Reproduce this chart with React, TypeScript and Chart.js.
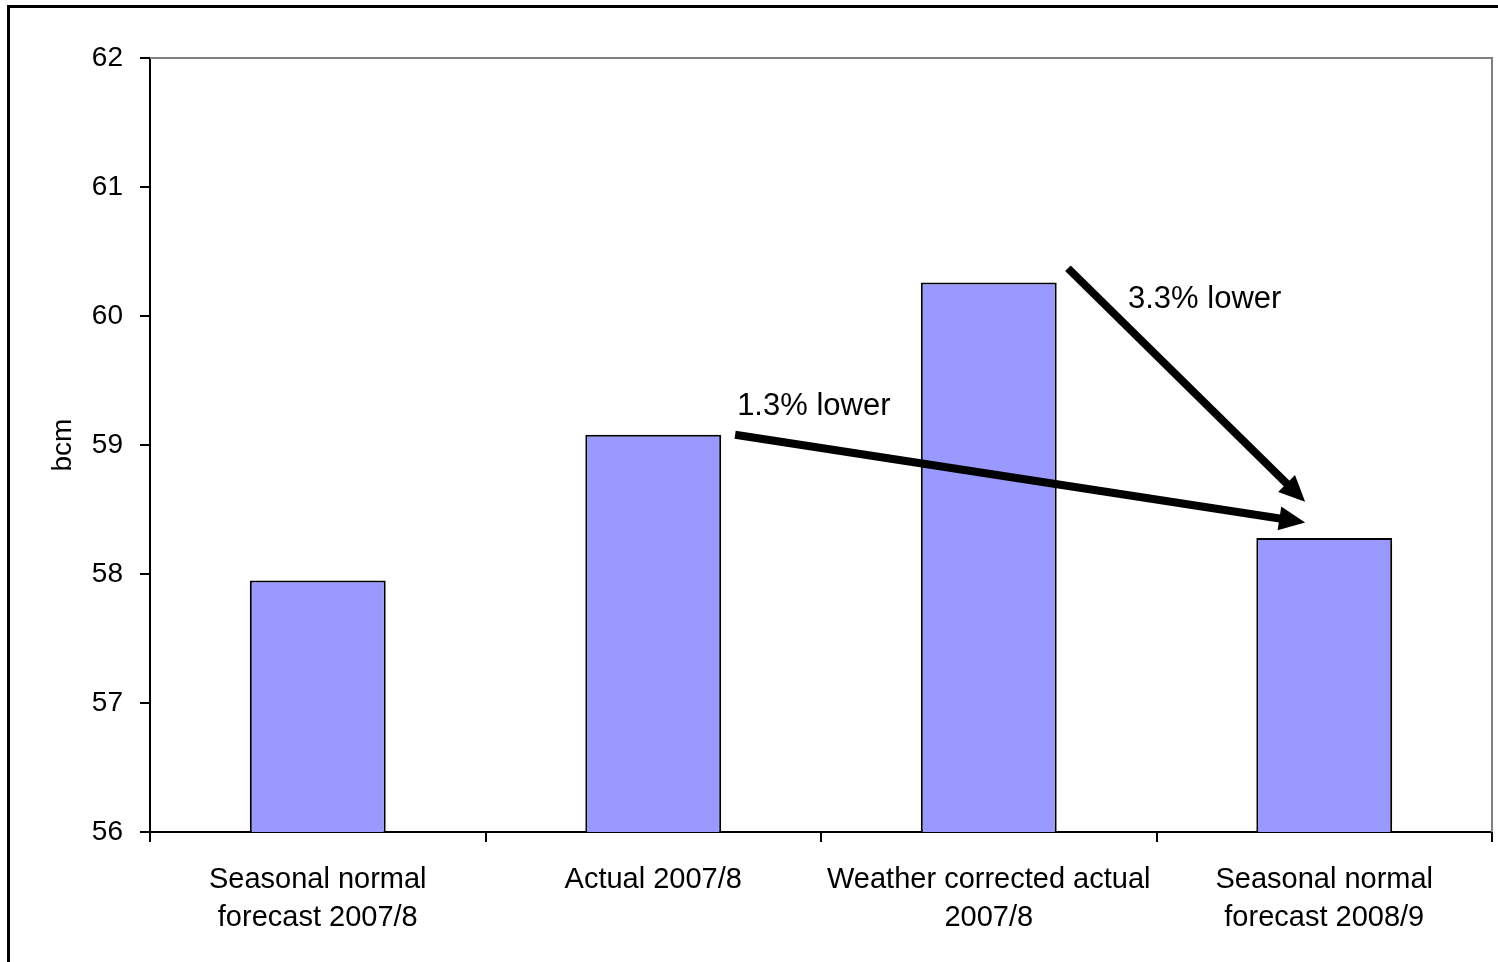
import React, { useEffect, useRef } from 'react';
import { Chart, registerables } from 'chart.js';

Chart.register(...registerables);

// Gas demand by year, billion cubic metres
const categories: string[][] = [
  ['Seasonal normal', 'forecast 2007/8'],
  ['Actual 2007/8'],
  ['Weather corrected actual', '2007/8'],
  ['Seasonal normal', 'forecast 2008/9'],
];
const demand: number[] = [57.95, 59.08, 60.26, 58.28];
const yMin = 56;
const yMax = 62;
const yStep = 1;

// Comparison arrows, in (category index, bcm) coordinates
const arrowFrom: number[][] = [
  [1.244, 59.08],
  [2.236, 60.37],
];
const arrowTo: number[][] = [
  [2.943, 58.4],
  [2.943, 58.56],
];
const noteTexts: string[] = ['1.3% lower', '3.3% lower'];
const noteAt: number[][] = [
  [1.25, 59.3],
  [2.415, 60.13],
];

const FONT = '"Liberation Sans", Arial, sans-serif';

const framePlugin = {
  id: 'plotFrame',
  beforeDatasetsDraw(chart: any) {
    const { ctx, chartArea } = chart;
    ctx.save();
    ctx.strokeStyle = '#808080';
    ctx.lineWidth = 2;
    ctx.beginPath();
    ctx.moveTo(chartArea.left, chartArea.top);
    ctx.lineTo(chartArea.right, chartArea.top);
    ctx.lineTo(chartArea.right, chartArea.bottom);
    ctx.stroke();
    ctx.restore();
  },
};

const arrowPlugin = {
  id: 'changeArrows',
  afterDatasetsDraw(chart: any) {
    const { ctx } = chart;
    const xs = chart.scales.x;
    const ys = chart.scales.y;
    ctx.save();
    ctx.fillStyle = '#000';
    ctx.strokeStyle = '#000';
    ctx.lineWidth = 8;
    ctx.lineCap = 'butt';
    for (let i = 0; i < arrowFrom.length; i++) {
      const x0 = xs.getPixelForValue(arrowFrom[i][0]);
      const y0 = ys.getPixelForValue(arrowFrom[i][1]);
      const x1 = xs.getPixelForValue(arrowTo[i][0]);
      const y1 = ys.getPixelForValue(arrowTo[i][1]);
      const dx = x1 - x0;
      const dy = y1 - y0;
      const len = Math.hypot(dx, dy);
      const ux = dx / len;
      const uy = dy / len;
      const head = 26;
      const half = 12;
      const bx = x1 - ux * head;
      const by = y1 - uy * head;
      ctx.beginPath();
      ctx.moveTo(x0, y0);
      ctx.lineTo(bx + ux * 2, by + uy * 2);
      ctx.stroke();
      ctx.beginPath();
      ctx.moveTo(x1, y1);
      ctx.lineTo(bx - uy * half, by + ux * half);
      ctx.lineTo(bx + uy * half, by - ux * half);
      ctx.closePath();
      ctx.fill();
    }
    ctx.font = `31px ${FONT}`;
    ctx.textAlign = 'left';
    ctx.textBaseline = 'middle';
    for (let i = 0; i < noteTexts.length; i++) {
      ctx.fillText(
        noteTexts[i],
        xs.getPixelForValue(noteAt[i][0]),
        ys.getPixelForValue(noteAt[i][1])
      );
    }
    ctx.restore();
  },
};

export default function App() {
  const canvasRef = useRef<HTMLCanvasElement | null>(null);

  useEffect(() => {
    if (!canvasRef.current) return;
    const chart = new Chart(canvasRef.current, {
      type: 'bar',
      data: {
        labels: categories,
        datasets: [
          {
            label: 'bcm',
            data: demand,
            backgroundColor: '#9999FF',
            borderColor: '#000000',
            borderWidth: 2,
            borderSkipped: 'bottom',
            categoryPercentage: 1,
            barPercentage: 0.405,
          },
        ],
      },
      options: {
        responsive: false,
        animation: false,
        layout: { padding: { left: 0, right: 6, top: 58, bottom: 0 } },
        plugins: {
          legend: { display: false },
          tooltip: { enabled: false },
        },
        scales: {
          x: {
            grid: {
              display: true,
              offset: true,
              drawOnChartArea: false,
              drawTicks: true,
              tickLength: 10,
              color: '#000',
              lineWidth: 2,
            },
            border: { display: true, color: '#000', width: 2 },
            ticks: {
              color: '#000',
              font: { family: FONT, size: 29, lineHeight: 1.31 },
              padding: 19,
              maxRotation: 0,
              autoSkip: false,
            },
            afterFit(scale: any) {
              scale.height = 130;
            },
          },
          y: {
            min: yMin,
            max: yMax,
            grid: {
              display: true,
              drawOnChartArea: false,
              drawTicks: true,
              tickLength: 10,
              color: '#000',
              lineWidth: 2,
            },
            border: { display: true, color: '#000', width: 2 },
            ticks: {
              stepSize: yStep,
              color: '#000',
              font: { family: FONT, size: 28 },
              padding: 17,
            },
            title: {
              display: true,
              text: 'bcm',
              color: '#000',
              font: { family: FONT, size: 28 },
              padding: { top: 46, bottom: 0 },
            },
            afterFit(scale: any) {
              scale.width = 150;
            },
          },
        },
      },
      plugins: [framePlugin, arrowPlugin],
    });
    return () => chart.destroy();
  }, []);

  return (
    <div
      style={{
        position: 'absolute',
        left: 0,
        top: 0,
        width: 1498,
        height: 962,
        overflow: 'hidden',
        background: '#fff',
      }}
    >
      <div
        style={{
          position: 'absolute',
          left: 7,
          top: 5,
          width: 1700,
          height: 1200,
          border: '3px solid #000',
          boxSizing: 'border-box',
        }}
      />
      <canvas
        ref={canvasRef}
        width={1498}
        height={962}
        style={{ position: 'absolute', left: 0, top: 0 }}
      />
    </div>
  );
}
